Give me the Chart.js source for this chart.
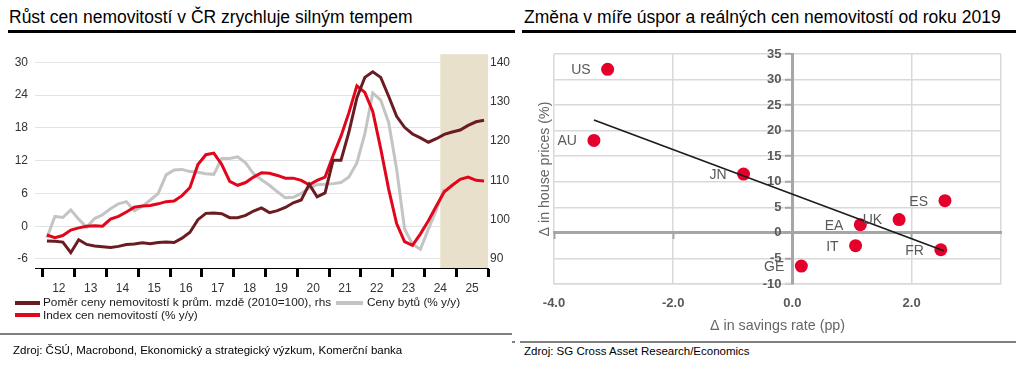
<!DOCTYPE html>
<html><head><meta charset="utf-8">
<script src="https://cdn.jsdelivr.net/npm/chart.js@4"></script>
<style>
html,body{margin:0;padding:0;background:#fff;}
body{width:1024px;height:365px;position:relative;overflow:hidden;font-family:"Liberation Sans",Arial,sans-serif;}
.abs{position:absolute;}
.title{font-size:17.5px;color:#000;line-height:18px;white-space:nowrap;}
.src{font-size:11.5px;color:#000;line-height:13px;white-space:nowrap;}
.leg{font-size:11.8px;color:#1a1a1a;line-height:14px;white-space:nowrap;}
.mk{position:absolute;height:4px;width:25px;}
</style></head><body>
<div class="abs title" style="left:9px;top:8px">Růst cen nemovitostí v ČR zrychluje silným tempem</div>
<div class="abs" style="left:8px;top:30px;width:507px;height:3px;background:#000"></div>
<div class="abs title" style="left:524px;top:8px">Změna v míře úspor a reálných cen nemovitostí od roku 2019</div>
<div class="abs" style="left:522px;top:30px;width:494px;height:3px;background:#000"></div>

<div class="abs" style="left:0;top:40px;width:512px;height:260px"><canvas id="c1" width="512" height="260"></canvas></div>
<div class="abs" style="left:512px;top:40px;width:512px;height:300px"><canvas id="c2" width="512" height="300"></canvas></div>

<div class="mk" style="left:15px;top:301px;background:#6b1c22"></div>
<div class="abs leg" style="left:43px;top:295px">Poměr ceny nemovitostí k prům. mzdě (2010=100), rhs</div>
<div class="mk" style="left:336px;top:301px;width:27px;background:#c4c4c4"></div>
<div class="abs leg" style="left:367px;top:295px">Ceny bytů (% y/y)</div>
<div class="mk" style="left:15px;top:313px;background:#e2061c"></div>
<div class="abs leg" style="left:43px;top:308px">Index cen nemovitostí (% y/y)</div>

<div class="abs" style="left:0;top:333px;width:512px;height:2px;background:#808080"></div>
<div class="abs src" style="left:13px;top:344px">Zdroj: ČSÚ, Macrobond, Ekonomický a strategický výzkum, Komerční banka</div>
<div class="abs" style="left:512px;top:341px;width:3px;height:2px;background:#808080"></div>
<div class="abs" style="left:520px;top:341px;width:496px;height:2px;background:#808080"></div>
<div class="abs src" style="left:524px;top:345px">Zdroj: SG Cross Asset Research/Economics</div>

<script>
// ---------- Left chart data ----------
const quarters = [
 "2012Q1","2012Q2","2012Q3","2012Q4","2013Q1","2013Q2","2013Q3","2013Q4",
 "2014Q1","2014Q2","2014Q3","2014Q4","2015Q1","2015Q2","2015Q3","2015Q4",
 "2016Q1","2016Q2","2016Q3","2016Q4","2017Q1","2017Q2","2017Q3","2017Q4",
 "2018Q1","2018Q2","2018Q3","2018Q4","2019Q1","2019Q2","2019Q3","2019Q4",
 "2020Q1","2020Q2","2020Q3","2020Q4","2021Q1","2021Q2","2021Q3","2021Q4",
 "2022Q1","2022Q2","2022Q3","2022Q4","2023Q1","2023Q2","2023Q3","2023Q4",
 "2024Q1","2024Q2","2024Q3","2024Q4","2025Q1","2025Q2","2025Q3","2025Q4"];
const ratioToWage = [94.6,94.5,94.3,91.6,94.9,93.7,93.3,93.1,92.9,93.2,
 93.7,93.8,94.1,93.9,94.2,94.3,94.2,95.3,96.8,100.0,
 101.6,101.7,101.5,100.5,100.5,101.1,102.2,103.0,101.8,102.3,
 103.1,104.3,105.0,109.0,105.8,106.8,115.1,115.1,122.3,131.0,
 136.2,137.6,136.2,131.4,126.3,123.5,121.8,120.8,119.7,120.6,
 121.7,122.3,122.8,124.0,124.9,125.3];
const flatPrices = [-2.1,1.8,1.6,3.0,1.3,-0.2,1.4,2.1,3.2,4.1,
 4.5,2.8,3.6,4.8,6.0,9.4,10.3,10.4,10.0,9.9,
 9.6,9.5,12.4,12.4,12.7,11.6,9.6,8.5,7.5,6.3,
 5.2,5.3,6.0,7.0,7.6,7.7,7.8,8.0,9.0,11.6,
 16.9,24.4,23.1,19.0,10.5,-0.5,-3.3,-4.2,-0.5,3.0,
 6.8,null,null,null,null,null];
const priceIndex = [-1.6,-2.1,-1.7,-0.7,-0.3,0.0,0.1,0.0,1.3,1.8,
 2.6,3.5,3.7,3.8,4.1,4.5,4.6,5.6,7.1,11.3,
 13.1,13.4,11.3,8.2,7.5,8.0,9.0,9.8,9.7,9.3,
 8.8,8.8,8.4,7.6,8.4,9.0,12.9,16.5,20.8,25.7,
 24.5,21.0,14.2,6.8,0.5,-2.8,-3.5,-1.4,1.0,3.7,
 6.3,7.5,8.6,9.0,8.4,8.3];
const yearLabels = ["12","13","14","15","16","17","18","19","20","21","22","23","24","25"];
const yearBounds = [2012,2013,2014,2015,2016,2017,2018,2019,2020,2021,2022,2023,2024,2025,2026];
const yearCenters = [2012.5,2013.5,2014.5,2015.5,2016.5,2017.5,2018.5,2019.5,2020.5,2021.5,2022.5,2023.5,2024.5,2025.5];
const leftTicks = [-6,0,6,12,18,24,30];
const rightTicks = [90,100,110,120,130,140];
const forecastStart = 2024.5, forecastEnd = 2026;

// ---------- Right chart data ----------
const countries = ["US","AU","JN","EA","UK","ES","IT","FR","GE"];
const savingsDelta = [-3.10,-3.33,-0.82,1.14,1.79,2.56,1.06,2.49,0.15];
const housePriceDelta = [32.0,18.1,11.5,1.6,2.6,6.3,-2.5,-3.3,-6.5];
const trendX = [-3.33,2.54];
const trendY = [22.1,-3.5];
const xTicks = [-4,-2,0,2,3.5];
const xAxisTicks = [-4,-2,0,2];
const yTicks = [-10,-5,0,5,10,15,20,25,30,35];

Chart.defaults.font.family = "'Liberation Sans', Arial, sans-serif";
Chart.defaults.font.size = 12;
Chart.defaults.color = '#333';

function qToX(q){ const y = parseInt(q.slice(0,4),10); const n = parseInt(q.slice(5),10); return y + (n-1)/4 + 0.125; }
function pts(arr){ return quarters.map((q,i)=>({x:qToX(q), y:arr[i]})); }
function setTicks(list){ return function(scale){ scale.ticks = list.map(v=>({value:v})); }; }

const shadePlugin = {
  id:'shade',
  beforeDatasetsDraw(chart){
    const {ctx, chartArea, scales} = chart;
    const x0 = scales.x.getPixelForValue(forecastStart);
    const x1 = scales.x.getPixelForValue(forecastEnd);
    ctx.save();
    ctx.fillStyle = '#e9e0cb';
    ctx.fillRect(x0, chartArea.top, x1-x0, chartArea.bottom-chartArea.top);
    ctx.restore();
  }
};

new Chart(document.getElementById('c1'), {
  type:'line',
  data:{datasets:[
    {label:'Poměr ceny nemovitostí k prům. mzdě (2010=100), rhs', data:pts(ratioToWage), yAxisID:'y1', xAxisID:'x', borderColor:'#6b1c22', borderWidth:3, pointRadius:0, tension:0},
    {label:'Index cen nemovitostí (% y/y)', data:pts(priceIndex), yAxisID:'y', xAxisID:'x', borderColor:'#e2061c', borderWidth:3, pointRadius:0, tension:0},
    {label:'Ceny bytů (% y/y)', data:pts(flatPrices), yAxisID:'y', xAxisID:'x', borderColor:'#c4c4c4', borderWidth:3, pointRadius:0, tension:0, spanGaps:false}
  ]},
  options:{
    responsive:false, animation:false,
    layout:{padding:{top:3,bottom:3,left:0,right:0}},
    plugins:{legend:{display:false}, tooltip:{enabled:false}},
    scales:{
      x:{type:'linear', position:'bottom', weight:0, min:2011.75, max:2026,
         afterBuildTicks:setTicks(yearBounds),
         afterFit(s){ s.height = 9; },
         grid:{display:true, drawOnChartArea:false, drawTicks:true, tickLength:9, tickWidth:3, tickColor:'#000', color:'#000'},
         border:{display:true, color:'#000', width:1},
         ticks:{display:false}},
      xl:{type:'linear', position:'bottom', weight:1, min:2011.75, max:2026,
         afterBuildTicks:setTicks(yearCenters),
         afterFit(s){ s.height = 20; },
         grid:{display:false, drawTicks:false}, border:{display:false},
         ticks:{autoSkip:false, maxRotation:0, padding:4, color:'#333', font:{size:12},
                callback:(v,i)=>yearLabels[i]}},
      y:{type:'linear', position:'left', min:-7.65, max:31.5,
         afterBuildTicks:setTicks(leftTicks),
         afterFit(s){ s.width = 35; },
         grid:{color:'#e3e3e3', lineWidth:1, drawTicks:false},
         border:{display:false},
         ticks:{padding:7, color:'#333', font:{size:12}, callback:v=>String(v)}},
      y1:{type:'linear', position:'right', min:87.7, max:142.1,
         afterBuildTicks:setTicks(rightTicks),
         afterFit(s){ s.width = 24; },
         grid:{display:false, drawTicks:false}, border:{display:false},
         ticks:{padding:2, color:'#333', font:{size:12}, callback:v=>String(v)}}
    }
  },
  plugins:[shadePlugin]
});

const labelPlugin = {
  id:'ptlabels',
  afterDatasetsDraw(chart){
    const meta = chart.getDatasetMeta(1);
    const ctx = chart.ctx;
    ctx.save();
    ctx.font = "14px 'Liberation Sans', Arial, sans-serif";
    ctx.fillStyle = '#595959';
    ctx.textAlign = 'right';
    ctx.textBaseline = 'middle';
    meta.data.forEach((p,i)=>{ ctx.fillText(countries[i], p.x - 17, p.y + 1); });
    ctx.restore();
  }
};

new Chart(document.getElementById('c2'), {
  type:'scatter',
  data:{datasets:[
    {label:'trend', data:trendX.map((x,i)=>({x, y:trendY[i]})), showLine:true, borderColor:'#1a1a1a', borderWidth:1.5, pointRadius:0, xAxisID:'x', yAxisID:'y'},
    {label:'countries', data:savingsDelta.map((x,i)=>({x, y:housePriceDelta[i]})), pointRadius:6.5, pointBackgroundColor:'#e4002b', pointBorderWidth:0, xAxisID:'x', yAxisID:'y'}
  ]},
  options:{
    responsive:false, animation:false,
    layout:{padding:{top:14,right:23,left:0,bottom:0}},
    plugins:{legend:{display:false}, tooltip:{enabled:false}},
    scales:{
      x:{type:'linear', position:'bottom', min:-4, max:3.5,
         afterBuildTicks:setTicks(xTicks),
         afterFit(s){ s.height = 56; },
         grid:{color:'#d9d9d9', lineWidth:1.5, drawTicks:false},
         border:{display:true, color:'#d9d9d9', width:1.5},
         ticks:{padding:12, color:'#595959', font:{size:13, weight:'bold'}, autoSkip:false, maxRotation:0,
                callback:v=> (v===3.5 ? '' : v.toFixed(1))},
         title:{display:true, text:'Δ in savings rate (pp)', color:'#666', font:{size:14.3}, padding:{top:0,bottom:5}}},
      x0:{type:'linear', position:{y:0}, min:-4, max:3.5,
         afterBuildTicks:setTicks(xAxisTicks),
         grid:{display:true, drawOnChartArea:false, drawTicks:true, tickLength:5, tickWidth:2, tickColor:'#a6a6a6'},
         border:{display:true, color:'#a6a6a6', width:3},
         ticks:{display:false}},
      y:{type:'linear', position:{x:0}, min:-10, max:35,
         afterBuildTicks:setTicks(yTicks),
         grid:{color:'#d9d9d9', lineWidth:1.5, drawTicks:true, tickLength:6, tickWidth:2, tickColor:'#a6a6a6'},
         border:{display:true, color:'#a6a6a6', width:3},
         ticks:{padding:3, color:'#595959', font:{size:13, weight:'bold'}, callback:v=>String(v) + '   '}},
      yt:{type:'linear', position:'left', min:0, max:1,
         afterFit(s){ s.width = 42; },
         grid:{display:false}, border:{display:false},
         ticks:{display:false},
         title:{display:true, text:'Δ in house prices (%)', color:'#666', font:{size:14.2}, padding:{top:24.5,bottom:0}}}
    }
  },
  plugins:[labelPlugin]
});
</script>
</body></html>
